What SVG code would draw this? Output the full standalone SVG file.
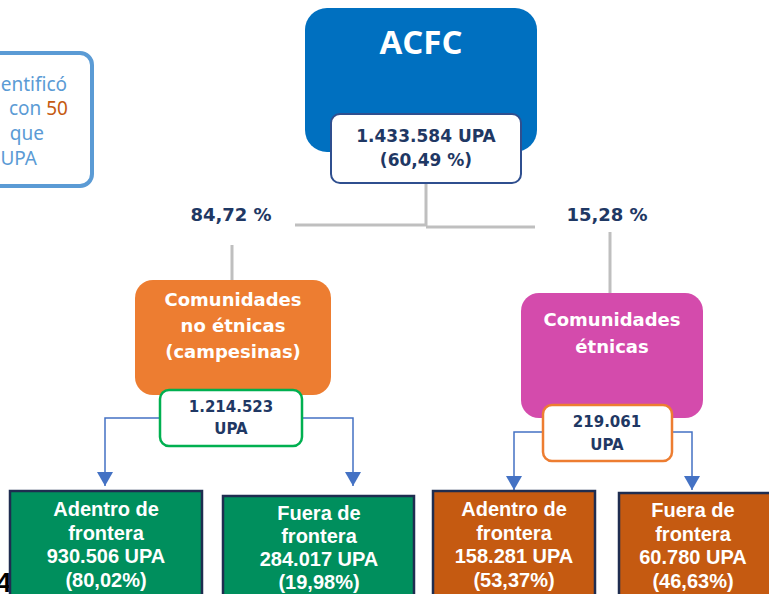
<svg xmlns="http://www.w3.org/2000/svg" width="769" height="594" viewBox="0 0 769 594">
<style>
.t{font-family:"DejaVu Sans","Open Sans",sans-serif;font-weight:700;text-anchor:middle}
.w{fill:#fff}
.n{fill:#1F3864}
.b{font-family:"Liberation Sans",Arial,sans-serif;font-weight:700;text-anchor:middle;fill:#fff;font-size:20px}
.g{stroke:#BFBFBF;stroke-width:3;fill:none}
.c{stroke:#4472C4;stroke-width:1.5;fill:none}
.gr{fill:#008F5D;stroke:#1F2D50;stroke-width:2.5}
.or{fill:#C55A11;stroke:#1F2D50;stroke-width:2.5}
</style>
<defs>
<marker id="ar" viewBox="0 0 14 16" refX="14" refY="8" markerWidth="14" markerHeight="16" markerUnits="userSpaceOnUse" orient="auto">
<path d="M0,0 L14,8 L0,16 Z" fill="#4472C4"/>
</marker>
</defs>
<rect width="769" height="594" fill="#fff"/>
<text x="-4" y="592" font-family="Liberation Sans,sans-serif" font-weight="700" font-size="28" fill="#000">4</text>

<g id="note">
<rect x="-40" y="53" width="132" height="133" rx="12" fill="#fff" stroke="#5B9BD5" stroke-width="4"/>
<g font-family="Noto Sans,Open Sans,sans-serif" font-size="19" fill="#5B9BD5" text-anchor="end">
<text x="67" y="91">entificó</text>
<text x="68" y="115">con <tspan fill="#C55A11">50</tspan></text>
<text x="44" y="140">que</text>
<text x="37" y="165">UPA</text>
</g>
</g>

<g id="connectors">
<path class="g" d="M426,183 V226"/>
<path class="g" d="M295,225 H426"/>
<path class="g" d="M426,227 H535"/>
<path class="g" d="M232,245 V281"/>
<path class="g" d="M610,232 V293"/>
<path class="c" d="M161,418 H105 V486" marker-end="url(#ar)"/>
<path class="c" d="M301,418 H353 V486" marker-end="url(#ar)"/>
<path class="c" d="M544,432 H514 V490" marker-end="url(#ar)"/>
<path class="c" d="M671,432 H692 V490" marker-end="url(#ar)"/>
</g>

<g id="pct-left"><text class="t n" x="231" y="221" font-size="18">84,72 %</text></g>
<g id="pct-right"><text class="t n" x="607" y="221" font-size="18">15,28 %</text></g>

<g id="acfc">
<rect x="305" y="8" width="232" height="144" rx="22" fill="#0070C0"/>
<text x="421" y="54" font-family="Open Sans,Noto Sans,sans-serif" font-weight="700" text-anchor="middle" fill="#fff" font-size="33">ACFC</text>
<rect x="331" y="114" width="190" height="69" rx="9" fill="#fff" stroke="#2F4F8F" stroke-width="2"/>
<text class="t n" x="426" y="142" font-size="17">1.433.584 UPA</text>
<text class="t n" x="426" y="166" font-size="17">(60,49 %)</text>
</g>

<g id="no-etnicas">
<rect x="135" y="280" width="196" height="115" rx="18" fill="#ED7D31"/>
<text class="t w" x="233" y="306" font-size="18">Comunidades</text>
<text class="t w" x="233" y="332" font-size="18">no étnicas</text>
<text class="t w" x="233" y="358" font-size="18">(campesinas)</text>
<rect x="160" y="390" width="142" height="56" rx="9" fill="#fff" stroke="#00B050" stroke-width="2.5"/>
<text class="t n" x="231" y="412" font-size="15">1.214.523</text>
<text class="t n" x="231" y="434" font-size="15">UPA</text>
</g>

<g id="etnicas">
<rect x="521" y="293" width="182" height="125" rx="18" fill="#D44BAC"/>
<text class="t w" x="612" y="326" font-size="18">Comunidades</text>
<text class="t w" x="612" y="353" font-size="18">étnicas</text>
<rect x="543" y="405" width="129" height="56" rx="9" fill="#fff" stroke="#ED7D31" stroke-width="2.5"/>
<text class="t n" x="607" y="427" font-size="15">219.061</text>
<text class="t n" x="607" y="450" font-size="15">UPA</text>
</g>

<g id="adentro-ne">
<rect class="gr" x="10" y="491" width="192" height="110"/>
<text class="b" x="106" y="516">Adentro de</text>
<text class="b" x="106" y="540">frontera</text>
<text class="b" x="106" y="563">930.506 UPA</text>
<text class="b" x="106" y="587">(80,02%)</text>
</g>
<g id="fuera-ne">
<rect class="gr" x="223" y="496" width="191" height="110"/>
<text class="b" x="319" y="520">Fuera de</text>
<text class="b" x="319" y="543">frontera</text>
<text class="b" x="319" y="566">284.017 UPA</text>
<text class="b" x="319" y="589">(19,98%)</text>
</g>
<g id="adentro-e">
<rect class="or" x="433" y="491" width="162" height="110"/>
<text class="b" x="514" y="516">Adentro de</text>
<text class="b" x="514" y="540">frontera</text>
<text class="b" x="514" y="563">158.281 UPA</text>
<text class="b" x="514" y="587">(53,37%)</text>
</g>
<g id="fuera-e">
<rect class="or" x="619" y="493" width="160" height="110"/>
<text class="b" x="693" y="517">Fuera de</text>
<text class="b" x="693" y="541">frontera</text>
<text class="b" x="693" y="564">60.780 UPA</text>
<text class="b" x="693" y="588">(46,63%)</text>
</g>
</svg>
